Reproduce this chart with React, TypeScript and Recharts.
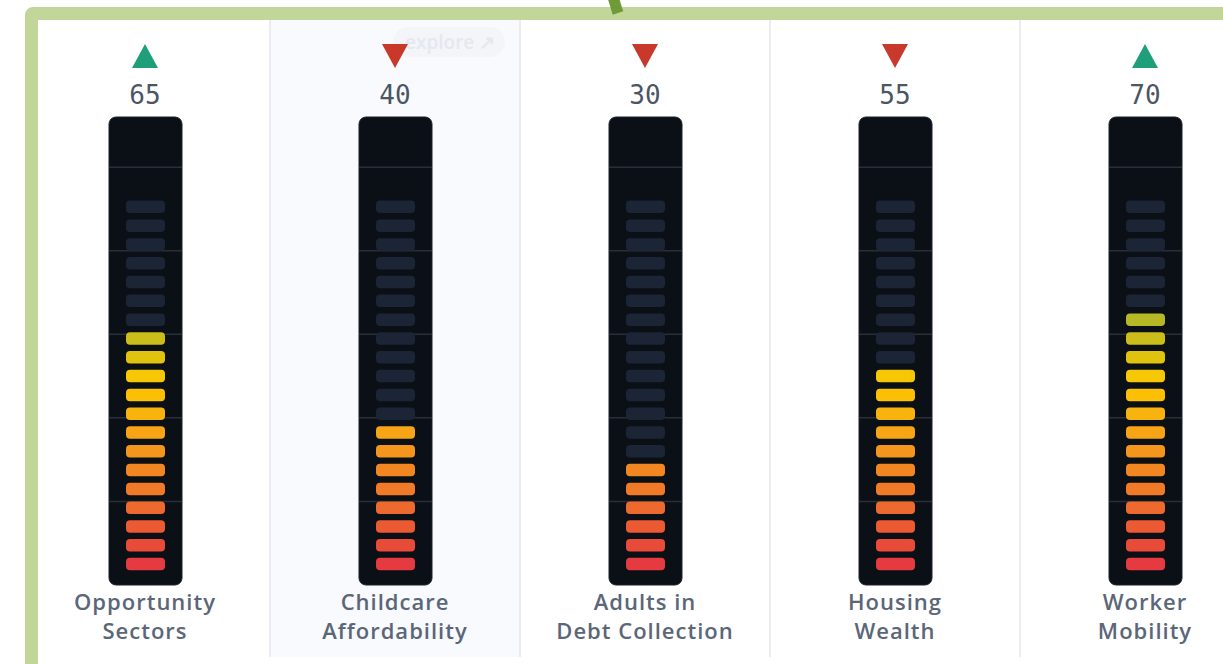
/* Segmented level gauges for five opportunity indicators. */

import { Bar, BarChart, XAxis, YAxis } from "recharts";

const CATEGORIES = ["Opportunity Sectors", "Childcare Affordability", "Adults in Debt Collection", "Housing Wealth", "Worker Mobility"];
const LABEL_LINES = [
  ["Opportunity", "Sectors"],
  ["Childcare", "Affordability"],
  ["Adults in", "Debt Collection"],
  ["Housing", "Wealth"],
  ["Worker", "Mobility"],
];
const SCORES = [65, 40, 30, 55, 70];
const TRENDS = ["up", "down", "down", "down", "up"];
const GRID_TICKS = [20, 40, 60, 80, 100];

const data = CATEGORIES.map((name, i) => ({ name, score: SCORES[i], trend: TRENDS[i] }));

// gauge look
const SEGMENT_COUNT = 20;
const SEGMENT_STEP = 5; // score per segment
const SEG_FIRST = 5; // centre of the bottom segment, in score units
const SEG_PITCH = 4.5;
const Y_MAX = 112;
const SEGMENT_COLORS = [
  "#e53a3f", "#e94b39", "#eb5a33", "#ed692d", "#f07a27",
  "#f28722", "#f4961d", "#f7a516", "#f9b30f", "#fbbf05",
  "#f5c704", "#e0c30f", "#cbbd1a", "#b6b825", "#a0b330",
  "#8aad3a", "#74a845", "#5ea24f", "#489d5a", "#329764",
];
const UNLIT = "#1c2536";
const HIGHLIGHT_INDEX = 1;

const CHART_W = 1250;
const CHART_H = 637;

function Gauge(props: any) {
  const { x, width, background, index, payload } = props;
  const top = background.y;
  const h = background.height;
  const yOf = (v: number) => top + h * (1 - v / Y_MAX);
  const cx = x + width / 2 + 0.5;
  const gw = 73;
  const sw = 39;
  const sh = 12.5;
  const segs = [];
  for (let i = 0; i < SEGMENT_COUNT; i++) {
    const lit = payload.score >= (i + 1) * SEGMENT_STEP;
    const cy = yOf(SEG_FIRST + SEG_PITCH * i);
    segs.push(
      <rect key={i} x={cx - sw / 2} y={cy - sh / 2} width={sw} height={sh} rx={4} fill={lit ? SEGMENT_COLORS[i] : UNLIT} />
    );
  }
  return (
    <g>
      {index === HIGHLIGHT_INDEX && <rect x={x} y={0} width={width} height={CHART_H} fill="#f8fafd" />}
      {index > 0 && <rect x={x - 1} y={0} width={2} height={CHART_H} fill="#e9edf3" />}
      <rect x={cx - gw / 2} y={top} width={gw} height={h} rx={7} fill="#0b0f16" stroke="#1d222a" strokeWidth={1} />
      {GRID_TICKS.map((t) => (
        <line key={t} x1={cx - gw / 2} x2={cx + gw / 2} y1={yOf(t)} y2={yOf(t)} stroke="#2a2f37" strokeWidth={1.5} />
      ))}
      {segs}
    </g>
  );
}

function TopTick(props: any) {
  const { x, y, payload } = props;
  const d = data[payload.index];
  const up = d.trend === "up";
  return (
    <g>
      {payload.index === HIGHLIGHT_INDEX && (
        <g>
          <rect x={x - 2} y={y - 90} width={112} height={30} rx={15} fill="#f3f5f9" />
          <text x={x + 10} y={y - 68} fontFamily="'Open Sans', sans-serif" fontWeight={600} fontSize={19} fill="#e4e8ef">
            explore ↗
          </text>
        </g>
      )}
      {up ? (
        <polygon points={`${x},${y - 73} ${x + 13},${y - 49} ${x - 13},${y - 49}`} fill="#1e9e79" />
      ) : (
        <polygon points={`${x - 13},${y - 73} ${x + 13},${y - 73} ${x},${y - 49}`} fill="#c9392b" />
      )}
      <text x={x} y={y - 13} textAnchor="middle" fontFamily="'DejaVu Sans Mono', monospace" fontSize={26} fill="#4b5563">
        {d.score}
      </text>
    </g>
  );
}

function BottomTick(props: any) {
  const { x, y, payload } = props;
  const lines = LABEL_LINES[payload.index];
  return (
    <text textAnchor="middle" fontFamily="'Open Sans', sans-serif" fontWeight={600} fontSize={22} fill="#5b6678" letterSpacing={1}>
      <tspan x={x} y={y + 25}>{lines[0]}</tspan>
      <tspan x={x} y={y + 54}>{lines[1]}</tspan>
    </text>
  );
}

export default function App() {
  return (
    <div style={{ position: "fixed", left: 0, top: 0, width: 1223, height: 664, overflow: "hidden", background: "#fff" }}>
      <div style={{ position: "absolute", left: 20, top: 20 }}>
        <BarChart width={CHART_W} height={CHART_H} data={data} margin={{ top: 0, right: 0, bottom: 0, left: 0 }} barCategoryGap={0} barGap={0}>
          <YAxis hide domain={[0, Y_MAX]} />
          <Bar dataKey="score" isAnimationActive={false} shape={(p: any) => <Gauge {...p} />} />
          <XAxis dataKey="name" height={72} axisLine={false} tickLine={false} tickSize={0} tickMargin={0} interval={0} tick={(p: any) => <BottomTick {...p} />} />
          <XAxis xAxisId="top" orientation="top" dataKey="name" height={97} axisLine={false} tickLine={false} tickSize={0} tickMargin={0} interval={0} tick={(p: any) => <TopTick {...p} />} />
        </BarChart>
      </div>
      <div
        style={{
          position: "absolute",
          left: 25,
          top: 7,
          width: 1260,
          height: 680,
          border: "13px solid #c3d69a",
          borderRadius: 8,
          boxSizing: "border-box",
        }}
      />
      <svg style={{ position: "absolute", left: 0, top: 0 }} width={1223} height={30}>
        <line x1={613} y1={-3} x2={618} y2={13} stroke="#6e9a37" strokeWidth={11} />
      </svg>
    </div>
  );
}
